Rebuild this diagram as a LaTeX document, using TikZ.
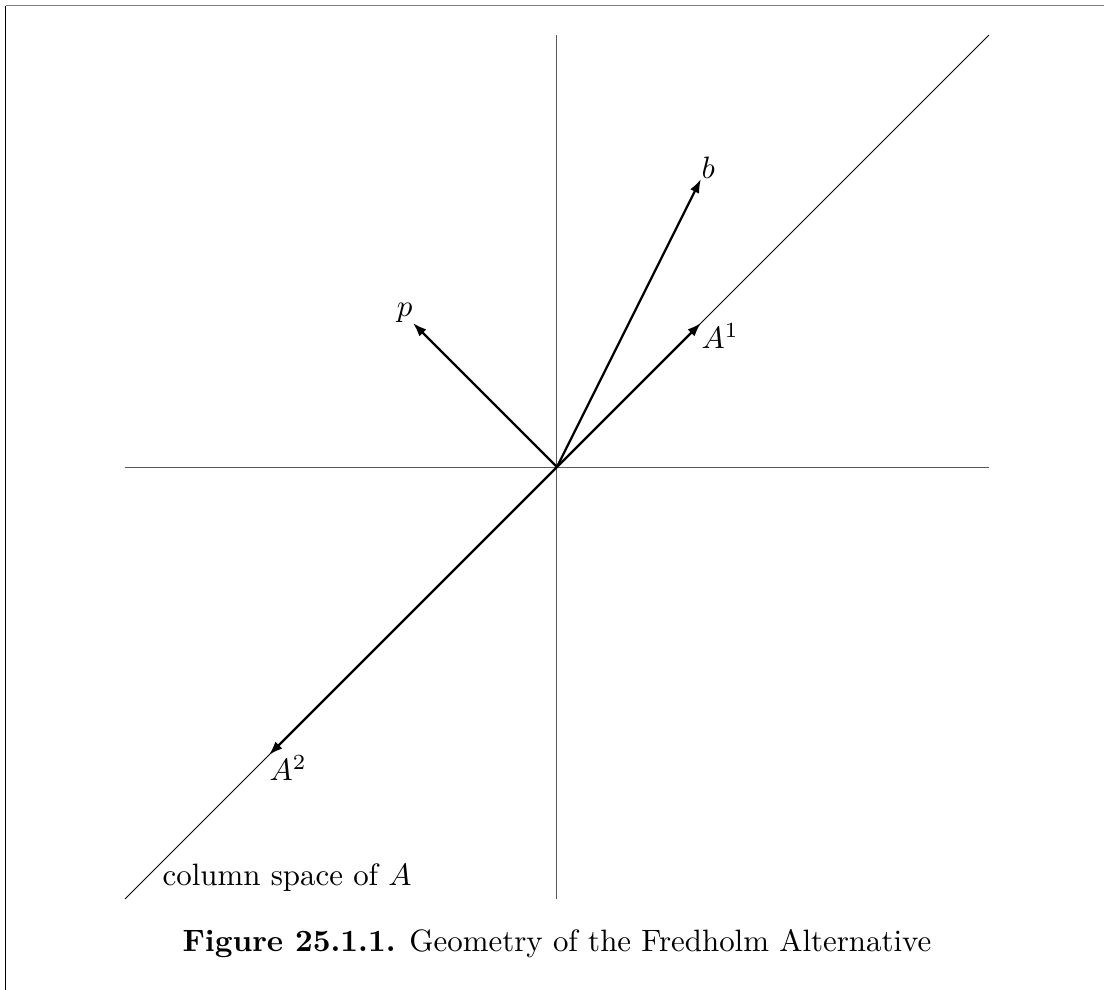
\documentclass[tikz,border=0pt]{standalone}
\usetikzlibrary{arrows.meta}
\begin{document}
\begin{tikzpicture}[x=46.6pt,y=46.6pt,
  axis/.style={line width=0.3pt,black!65},
  colline/.style={line width=0.3pt,black},
  vec/.style={line width=0.75pt,-{Latex[length=4.5pt,width=3.2pt]}},
  lbl/.style={inner sep=0pt,font=\fontsize{10}{12}\selectfont},
  frameline/.style={line width=0.4pt,black}]
\useasboundingbox (-3.868,-3.632) rectangle (3.799,3.243);
% frame
\coordinate (fTL) at (-3.829,3.204);
\coordinate (fTR) at (3.799,3.204);
\coordinate (fBL) at (-3.829,-3.632);
\draw[frameline,gray] (fTL) -- (fTR);
\draw[frameline] (fTL) -- (fBL);
% axes
\coordinate (O) at (0,0);
\coordinate (xl) at (-3,0);
\coordinate (xr) at (3,0);
\coordinate (yb) at (0,-3);
\coordinate (yt) at (0,3);
\coordinate (dl) at (-3,-3);
\coordinate (du) at (3,3);
\draw[axis] (xl) -- (xr);
\draw[axis] (yb) -- (yt);
\draw[colline] (dl) -- (du);
% vectors
\coordinate (a1) at (1,1);
\coordinate (a2) at (-2,-2);
\coordinate (bv) at (1,2);
\coordinate (pv) at (-1,1);
\draw[vec] (O) -- (a1);
\draw[vec] (O) -- (a2);
\draw[vec] (O) -- (bv);
\draw[vec] (O) -- (pv);
% labels
\node[lbl,anchor=south west] (lb) at (bv) {$b$};
\node[lbl,anchor=south east] (lp) at (pv) {$p$};
\node[lbl,anchor=north west] (la1) at (a1) {$A^1$};
\node[lbl,anchor=north west] (la2) at (a2) {$A^2$};
\node[lbl,anchor=base west] (lcs) at (-2.743,-2.91) {column space of $A$};
\node[lbl,anchor=base] (cap) at (0,-3.368) {\textbf{Figure 25.1.1.} Geometry of the Fredholm Alternative};
\end{tikzpicture}
\end{document}
